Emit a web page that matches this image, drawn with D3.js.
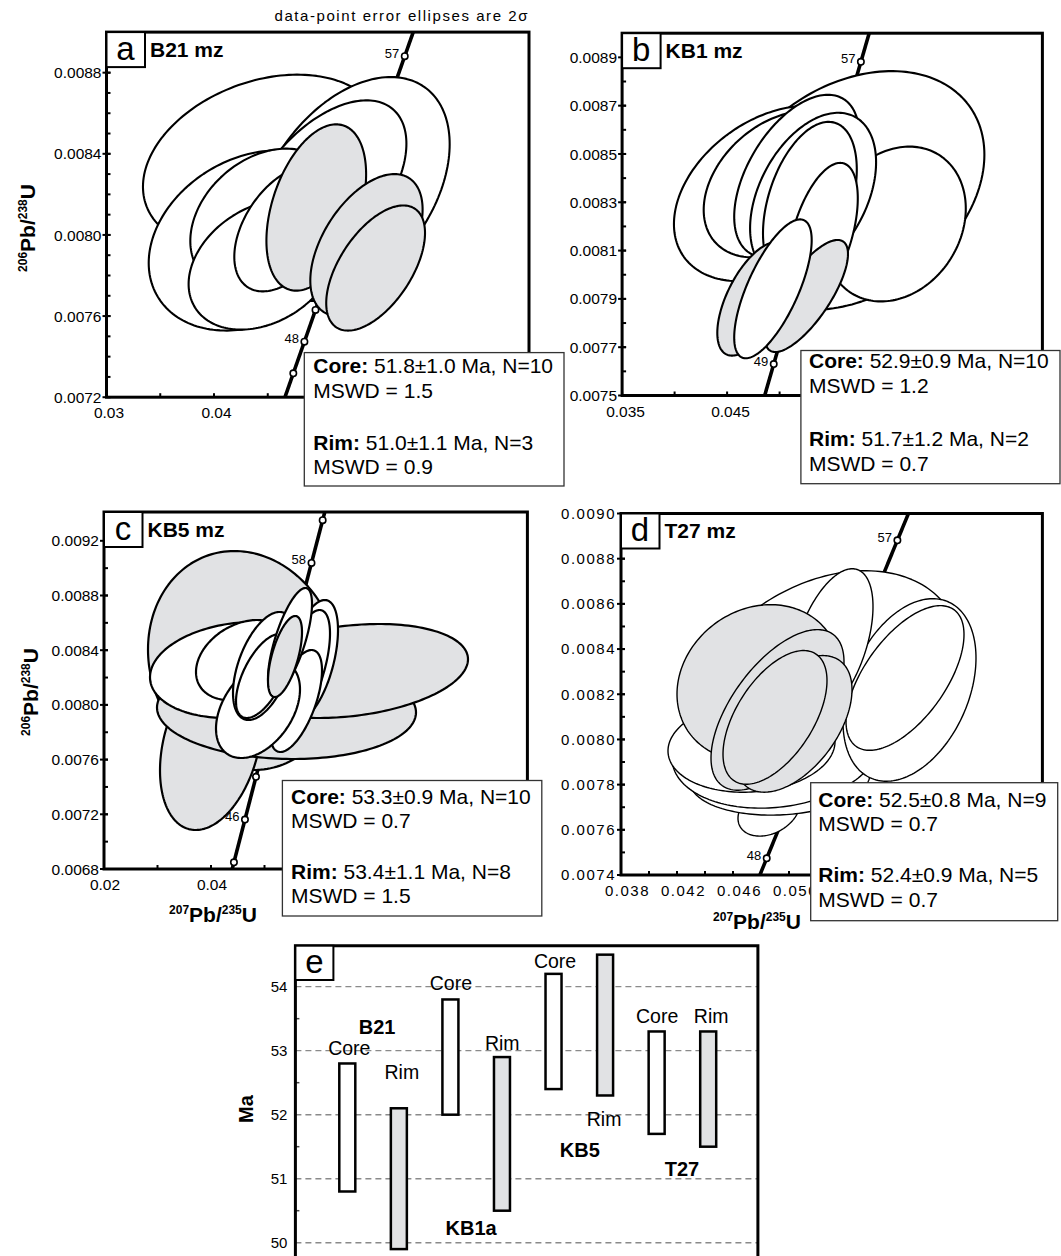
<!DOCTYPE html>
<html>
<head>
<meta charset="utf-8">
<script src="https://cdn.jsdelivr.net/npm/d3@7"></script>
<style>
  body { margin: 0; background: #fff; }
  svg { display: block; }
  text { white-space: pre; }
</style>
</head>
<body>
<svg id="fig" width="1061" height="1256"></svg>
<script>
// ---------------------------------------------------------------
// U-Pb monazite concordia diagrams (a-d) and age summary (e)
// ---------------------------------------------------------------

// Sample names
const sampleIds = ["B21", "KB1", "KB5", "T27"];
const summaryNames = ["B21", "KB1a", "KB5", "T27"];

// Weighted mean ages (Ma), 2-sigma errors, N and MSWD
const coreAge  = [51.8, 52.9, 53.3, 52.5];
const coreErr  = [1.0, 0.9, 0.9, 0.8];
const coreN    = [10, 10, 10, 9];
const coreMSWD = [1.5, 1.2, 0.7, 0.7];
const rimAge   = [51.0, 51.7, 53.4, 52.4];
const rimErr   = [1.1, 1.2, 1.1, 0.9];
const rimN     = [3, 2, 8, 5];
const rimMSWD  = [0.9, 0.7, 1.5, 0.7];

// Error ellipses: [207Pb/235U, 2s half-extent, 206Pb/238U, 2s half-extent, rho, rim(1)/core(0)]
// listed back to front
const ellipsesA = [
  [0.04462,  0.011228, 0.0083585, 0.0004317, 0.28, 0],
  [0.05280,  0.009121, 0.0082266, 0.0005518, 0.40, 0],
  [0.050316, 0.007581, 0.0082276, 0.0004359, 0.51, 0],
  [0.043521, 0.009595, 0.0079727, 0.0004443, 0.25, 0],
  [0.04467,  0.006874, 0.0080753, 0.0003501, 0.30, 0],
  [0.044591, 0.006953, 0.0078541, 0.0003208, 0.30, 0],
  [0.046716, 0.004828, 0.0080316, 0.0003099, 0.45, 0],
  [0.049512, 0.004637, 0.0081352, 0.0004100, 0.40, 1],
  [0.054181, 0.005223, 0.0079500, 0.0003501, 0.50, 1],
  [0.055033, 0.004595, 0.0078368, 0.0003084, 0.56, 1]
];
const ellipsesB = [
  [0.056895, 0.012610, 0.0083487, 0.0004943, 0.30, 0],
  [0.061010, 0.006724, 0.0082100, 0.0003205, 0.20, 0],
  [0.049371, 0.009433, 0.0083367, 0.0003631, 0.35, 0],
  [0.049981, 0.007210, 0.0083746, 0.0003029, 0.35, 0],
  [0.051629, 0.005952, 0.0084084, 0.0003366, 0.50, 0],
  [0.053190, 0.006000, 0.0083291, 0.0003414, 0.40, 0],
  [0.052886, 0.004467, 0.0083032, 0.0003296, 0.40, 0],
  [0.054095, 0.003352, 0.0081693, 0.0002937, 0.50, 0],
  [0.052562, 0.003952, 0.0079120, 0.0002319, 0.75, 1],
  [0.047567, 0.003500, 0.0079002, 0.0002350, 0.60, 1],
  [0.049367, 0.003690, 0.0079416, 0.0002875, 0.70, 0]
];
const ellipsesC = [
  [0.046168, 0.017944, 0.0083247, 0.0008007, -0.10, 1],
  [0.040000, 0.009533, 0.0077068, 0.0006216, 0.30, 1],
  [0.054112, 0.024206, 0.0079627, 0.0003583, -0.05, 1],
  [0.065794, 0.022243, 0.0082479, 0.0003437, 0.25, 1],
  [0.045421, 0.016822, 0.0082552, 0.0003510, 0.15, 0],
  [0.045981, 0.008785, 0.0083283, 0.0002925, 0.30, 0],
  [0.058785, 0.004953, 0.0083283, 0.0004388, 0.50, 0],
  [0.057383, 0.004860, 0.0082625, 0.0004314, 0.60, 0],
  [0.055888, 0.004860, 0.0080285, 0.0003729, 0.60, 0],
  [0.048785, 0.007850, 0.0079700, 0.0003583, 0.40, 0],
  [0.049907, 0.005794, 0.0082845, 0.0003949, 0.50, 0],
  [0.049720, 0.005047, 0.0082113, 0.0003071, 0.60, 0],
  [0.054766, 0.004112, 0.0084673, 0.0003876, 0.70, 0],
  [0.053832, 0.003178, 0.0083539, 0.0002962, 0.60, 1]
];
const ellipsesD = [
  [0.052571, 0.009643, 0.0082389, 0.0005077, 0.30, 0],
  [0.048571, 0.002214, 0.0076848, 0.0001126, 0.30, 0],
  [0.049357, 0.006429, 0.0078305, 0.0001656, 0.10, 0],
  [0.049071, 0.007429, 0.0079563, 0.0002605, 0.15, 0],
  [0.047321, 0.005964, 0.0079695, 0.0002031, 0.10, 0],
  [0.058607, 0.004750, 0.0082190, 0.0004040, 0.35, 0],
  [0.053036, 0.002964, 0.0084199, 0.0003355, 0.50, 0],
  [0.058286, 0.004214, 0.0082720, 0.0003201, 0.60, 0],
  [0.047821, 0.005821, 0.0082521, 0.0003444, 0.15, 1],
  [0.049179, 0.004750, 0.0081307, 0.0003554, 0.60, 1],
  [0.050321, 0.004179, 0.0080689, 0.0003024, 0.50, 1],
  [0.049000, 0.003714, 0.0080976, 0.0002958, 0.55, 1]
];

// Concordia age marks (Ma) and the ones carrying a label
const marksA = [46, 47, 48, 49, 50, 51, 52, 53, 54, 55, 56, 57, 58];
const marksB = [48, 49, 50, 51, 52, 53, 54, 55, 56, 57, 58];
const marksC = [44, 46, 48, 50, 52, 54, 56, 58, 60];
const marksD = [47, 48, 49, 50, 51, 52, 53, 54, 55, 56, 57, 58];
const markLabelsA = [48, 57];
const markLabelsB = [49, 57];
const markLabelsC = [46, 58];
const markLabelsD = [48, 57];

// Axis tick labels
const xLabelsA = [0.03, 0.04];
const yLabelsA = [0.0072, 0.0076, 0.0080, 0.0084, 0.0088];
const xLabelsB = [0.035, 0.045];
const yLabelsB = [0.0075, 0.0077, 0.0079, 0.0081, 0.0083, 0.0085, 0.0087, 0.0089];
const xLabelsC = [0.02, 0.04];
const yLabelsC = [0.0068, 0.0072, 0.0076, 0.0080, 0.0084, 0.0088, 0.0092];
const xLabelsD = [0.038, 0.042, 0.046, 0.050];
const yLabelsD = [0.0074, 0.0076, 0.0078, 0.0080, 0.0082, 0.0084, 0.0086, 0.0088, 0.0090];
const yLabelsE = [50, 51, 52, 53, 54];

// Decay constants (per year)
const L238 = 1.55125e-10;
const L235 = 9.8485e-10;

const FONT = "'Liberation Sans', Arial, Helvetica, sans-serif";
const RIM_FILL = "#e1e2e4";

const svg = d3.select("#fig").attr("font-family", FONT);
const defs = svg.append("defs");

const panels = [
  { id: "a", title: sampleIds[0] + " mz", ellipses: ellipsesA, marks: marksA, markLabels: markLabelsA,
    left: 106.5, right: 529, top: 32.1, bottom: 397.2,
    xDomain: [0.03, 0.0693], yDomain: [0.0072, 0.0090],
    xLabels: xLabelsA, yLabels: yLabelsA, xMinor: 0.005, yMinor: 0.0001,
    xFmt: ".2f", yFmt: ".4f", xDx: 2.5, tickFont: 15.5, tickSpacing: 0, stroke: 2.1,
    ageRange: [45, 60], yTitle: { x: 35, y: 228 } },
  { id: "b", title: sampleIds[1] + " mz", ellipses: ellipsesB, marks: marksB, markLabels: markLabelsB,
    left: 622.1, right: 1042.4, top: 33.2, bottom: 395.5,
    xDomain: [0.035, 0.07503], yDomain: [0.0075, 0.0090],
    xLabels: xLabelsB, yLabels: yLabelsB, xMinor: 0.005, yMinor: 0.0001,
    xFmt: ".3f", yFmt: ".4f", xDx: 3.5, tickFont: 15.5, tickSpacing: 0, stroke: 2.1,
    ageRange: [46, 60] },
  { id: "c", title: sampleIds[2] + " mz", ellipses: ellipsesC, marks: marksC, markLabels: markLabelsC,
    left: 104, right: 527.4, top: 512, bottom: 869,
    xDomain: [0.02, 0.09914], yDomain: [0.0068, 0.0094106],
    xLabels: xLabelsC, yLabels: yLabelsC, xMinor: 0.01, yMinor: 0.0002,
    xFmt: ".2f", yFmt: ".4f", xDx: 1, tickFont: 15.5, tickSpacing: 0, stroke: 2.2,
    ageRange: [42, 62], yTitle: { x: 38, y: 692 }, xTitle: { x: 213, y: 922 } },
  { id: "d", title: sampleIds[3] + " mz", ellipses: ellipsesD, marks: marksD, markLabels: markLabelsD,
    left: 621, right: 1042.4, top: 513.5, bottom: 875,
    xDomain: [0.038, 0.0681], yDomain: [0.0074, 0.0090],
    xLabels: xLabelsD, yLabels: yLabelsD, xMinor: 0.002, yMinor: 0.0001,
    xFmt: ".3f", yFmt: ".4f", xDx: 6.5, tickFont: 15, tickSpacing: 1.5, stroke: 1.4,
    ageRange: [46, 60], xTitle: { x: 757, y: 929 } }
];

function isoLabel(sel, big, supA, supB) {
  sel.append("tspan").attr("font-size", 12).attr("dy", -8).text(supA);
  sel.append("tspan").attr("font-size", big).attr("dy", 8).text("Pb/");
  sel.append("tspan").attr("font-size", 12).attr("dy", -8).text(supB);
  sel.append("tspan").attr("font-size", big).attr("dy", 8).text("U");
}

function drawPanel(p) {
  const g = svg.append("g").attr("class", "panel-" + p.id);
  const x = d3.scaleLinear().domain(p.xDomain).range([p.left, p.right]);
  const y = d3.scaleLinear().domain(p.yDomain).range([p.bottom, p.top]);

  defs.append("clipPath").attr("id", "clip-" + p.id)
    .append("rect")
    .attr("x", p.left).attr("y", p.top)
    .attr("width", p.right - p.left).attr("height", p.bottom - p.top);

  const plot = g.append("g").attr("clip-path", `url(#clip-${p.id})`);

  // Concordia curve
  const ages = d3.range(p.ageRange[0], p.ageRange[1], 0.05);
  const concordia = ages.map(t => [Math.expm1(L235 * t * 1e6), Math.expm1(L238 * t * 1e6)]);
  plot.append("path")
    .attr("d", d3.line().x(d => x(d[0])).y(d => y(d[1]))(concordia))
    .attr("fill", "none").attr("stroke", "#000").attr("stroke-width", 3.6);

  const markPts = p.marks.map(t => ({ t, r207: Math.expm1(L235 * t * 1e6), r206: Math.expm1(L238 * t * 1e6) }));
  plot.selectAll("circle.mark").data(markPts).join("circle")
    .attr("class", "mark")
    .attr("cx", d => x(d.r207)).attr("cy", d => y(d.r206)).attr("r", 3.2)
    .attr("fill", "#fff").attr("stroke", "#000").attr("stroke-width", 1.6);

  // Error ellipses
  const line = d3.line().x(d => x(d[0])).y(d => y(d[1])).curve(d3.curveLinearClosed);
  const steps = d3.range(0, 2 * Math.PI, Math.PI / 90);
  p.ellipses.forEach(([cx, ex, cy, ey, rho, rim]) => {
    const k = Math.sqrt(1 - rho * rho);
    const pts = steps.map(t => [cx + ex * Math.cos(t), cy + ey * (rho * Math.cos(t) + k * Math.sin(t))]);
    plot.append("path").attr("d", line(pts))
      .attr("fill", rim ? RIM_FILL : "#fff")
      .attr("stroke", "#000").attr("stroke-width", p.stroke)
      .attr("stroke-linejoin", "round");
  });

  // Age mark labels
  g.selectAll("text.marklab").data(markPts.filter(d => p.markLabels.includes(d.t))).join("text")
    .attr("class", "marklab")
    .attr("x", d => x(d.r207) - 5.5).attr("y", d => y(d.r206) + 1.5)
    .attr("text-anchor", "end").attr("font-size", 13).text(d => d.t);

  // Ticks
  const ticks = g.append("g").attr("stroke", "#000").attr("stroke-width", 2);
  const xMinorVals = d3.range(Math.ceil(p.xDomain[0] / p.xMinor - 1e-6), Math.floor(p.xDomain[1] / p.xMinor + 1e-6) + 1).map(i => i * p.xMinor);
  const yMinorVals = d3.range(Math.ceil(p.yDomain[0] / p.yMinor - 1e-6), Math.floor(p.yDomain[1] / p.yMinor + 1e-6) + 1).map(i => i * p.yMinor);
  ticks.selectAll("line.xm").data(xMinorVals).join("line")
    .attr("x1", d => x(d)).attr("x2", d => x(d))
    .attr("y1", p.bottom).attr("y2", p.bottom - 4);
  ticks.selectAll("line.ym").data(yMinorVals).join("line")
    .attr("y1", d => y(d)).attr("y2", d => y(d))
    .attr("x1", p.left).attr("x2", p.left + 4);
  ticks.selectAll("line.yM").data(p.yLabels).join("line")
    .attr("y1", d => y(d)).attr("y2", d => y(d))
    .attr("x1", p.left - 4).attr("x2", p.left + 4);

  // Frame
  g.append("rect")
    .attr("x", p.left).attr("y", p.top)
    .attr("width", p.right - p.left).attr("height", p.bottom - p.top)
    .attr("fill", "none").attr("stroke", "#000").attr("stroke-width", 3);

  // Tick labels
  const fx = d3.format(p.xFmt), fy = d3.format(p.yFmt);
  g.selectAll("text.xl").data(p.xLabels).join("text")
    .attr("x", d => x(d) + p.xDx).attr("y", p.bottom + 21)
    .attr("text-anchor", "middle").attr("font-size", p.tickFont)
    .style("letter-spacing", p.tickSpacing + "px")
    .text(d => fx(d));
  g.selectAll("text.yl").data(p.yLabels).join("text")
    .attr("x", p.left - 5).attr("y", d => y(d)).attr("dy", "0.36em")
    .attr("text-anchor", "end").attr("font-size", p.tickFont)
    .style("letter-spacing", p.tickSpacing + "px")
    .text(d => fy(d));

  // Panel letter box and sample title
  g.append("rect")
    .attr("x", p.left).attr("y", p.top).attr("width", 38.5).attr("height", 35)
    .attr("fill", "#fff").attr("stroke", "#000").attr("stroke-width", 2);
  g.append("text")
    .attr("x", p.left + 19).attr("y", p.top + 27.5)
    .attr("text-anchor", "middle").attr("font-size", 33).text(p.id);
  g.append("text")
    .attr("x", p.left + 43.5).attr("y", p.top + 24.5)
    .attr("font-size", 21).attr("font-weight", "bold").text(p.title);

  // Axis titles
  if (p.yTitle) {
    const t = g.append("text")
      .attr("transform", `translate(${p.yTitle.x},${p.yTitle.y}) rotate(-90)`)
      .attr("text-anchor", "middle").attr("font-weight", "bold");
    isoLabel(t, 21, "206", "238");
  }
  if (p.xTitle) {
    const t = g.append("text")
      .attr("x", p.xTitle.x).attr("y", p.xTitle.y)
      .attr("text-anchor", "middle").attr("font-weight", "bold");
    isoLabel(t, 21, "207", "235");
  }
}

panels.forEach(drawPanel);

// Header note
svg.append("text")
  .attr("x", 274.5).attr("y", 21)
  .attr("font-size", 15)
  .attr("textLength", 253).attr("lengthAdjust", "spacing")
  .text("data-point error ellipses are 2\u03c3");

// Result boxes
const boxes = [
  { x: 304.3, y: 352.6, w: 259.7, h: 133.4, tx: 313.3, lines: [372.7, 397.7, 449.5, 474] },
  { x: 800.9, y: 350.5, w: 259.1, h: 133.2, tx: 809,   lines: [368.3, 392.7, 446.4, 470.8] },
  { x: 282.4, y: 780.5, w: 259.4, h: 135.5, tx: 291,   lines: [803.6, 828.3, 878.5, 903] },
  { x: 810.7, y: 782.7, w: 247,   h: 138,   tx: 818.3, lines: [806.7, 831.3, 882, 906.5] }
];
boxes.forEach((b, i) => {
  const g = svg.append("g");
  g.append("rect").attr("x", b.x).attr("y", b.y).attr("width", b.w).attr("height", b.h)
    .attr("fill", "#fff").attr("stroke", "#333").attr("stroke-width", 1.3);
  const rows = [
    { head: "Core:", body: ` ${coreAge[i].toFixed(1)}\u00b1${coreErr[i].toFixed(1)} Ma, N=${coreN[i]}` },
    { head: "", body: `MSWD = ${coreMSWD[i].toFixed(1)}` },
    { head: "Rim:", body: ` ${rimAge[i].toFixed(1)}\u00b1${rimErr[i].toFixed(1)} Ma, N=${rimN[i]}` },
    { head: "", body: `MSWD = ${rimMSWD[i].toFixed(1)}` }
  ];
  rows.forEach((r, j) => {
    const t = g.append("text").attr("x", b.tx).attr("y", b.lines[j]).attr("font-size", 21);
    if (r.head) t.append("tspan").attr("font-weight", "bold").text(r.head);
    t.append("tspan").text(r.body);
  });
});

// ---------------- Panel e: age summary ----------------
const eFrame = { left: 295.4, right: 757.9, top: 945.7 };
const bars = [];
summaryNames.forEach((s, i) => {
  bars.push({ key: s + " core", age: coreAge[i], err: coreErr[i], rim: false });
  bars.push({ key: s + " rim", age: rimAge[i], err: rimErr[i], rim: true });
});
const xe = d3.scalePoint().domain(bars.map(d => d.key)).range([347.3, 708.2]);
const ye = d3.scaleLinear().domain([49.5, 54.64]).range([1274.7, eFrame.top]);
const ge = svg.append("g");

// dashed grid
ge.selectAll("line.grid").data(yLabelsE).join("line")
  .attr("x1", eFrame.left).attr("x2", eFrame.right)
  .attr("y1", d => ye(d)).attr("y2", d => ye(d))
  .attr("stroke", "#8a8a8a").attr("stroke-width", 1.4).attr("stroke-dasharray", "6,4");
// minor ticks
ge.selectAll("line.em").data(yLabelsE.map(v => v - 0.5).concat([54.5])).join("line")
  .attr("x1", eFrame.left).attr("x2", eFrame.left + 4)
  .attr("y1", d => ye(d)).attr("y2", d => ye(d))
  .attr("stroke", "#444").attr("stroke-width", 1.5);

// bars
ge.selectAll("rect.bar").data(bars).join("rect")
  .attr("x", d => xe(d.key) - 8).attr("width", 16)
  .attr("y", d => ye(d.age + d.err))
  .attr("height", d => ye(d.age - d.err) - ye(d.age + d.err))
  .attr("fill", d => d.rim ? RIM_FILL : "#fff")
  .attr("stroke", "#000").attr("stroke-width", 2.5);

// labels beside the bars (placement in Ma)
const barLabelPlacement = [
  { key: "B21 core",  text: "Core", ma: 52.93, dx: 2 },
  { key: "B21 rim",   text: "Rim",  ma: 52.55, dx: 3 },
  { key: "KB1a core", text: "Core", ma: 53.95, dx: 0.5 },
  { key: "KB1a rim",  text: "Rim",  ma: 53.01, dx: 0.3 },
  { key: "KB5 core",  text: "Core", ma: 54.29, dx: 1.5 },
  { key: "KB5 rim",   text: "Rim",  ma: 51.82, dx: -1 },
  { key: "T27 core",  text: "Core", ma: 53.44, dx: 0.5 },
  { key: "T27 rim",   text: "Rim",  ma: 53.44, dx: 3 }
];
ge.selectAll("text.bl").data(barLabelPlacement).join("text")
  .attr("x", d => xe(d.key) + d.dx).attr("y", d => ye(d.ma))
  .attr("text-anchor", "middle").attr("font-size", 19.5).text(d => d.text);

const groupLabelPlacement = [
  { name: summaryNames[0], ma: 53.26, dx: 4 },
  { name: summaryNames[1], ma: 50.12, dx: -5 },
  { name: summaryNames[2], ma: 51.34, dx: 0.5 },
  { name: summaryNames[3], ma: 51.04, dx: -0.5 }
];
ge.selectAll("text.gl").data(groupLabelPlacement).join("text")
  .attr("x", d => (xe(d.name + " core") + xe(d.name + " rim")) / 2 + d.dx)
  .attr("y", d => ye(d.ma))
  .attr("text-anchor", "middle").attr("font-size", 20).attr("font-weight", "bold")
  .text(d => d.name);

// frame (bottom lies below the visible area)
ge.append("path")
  .attr("d", `M${eFrame.left},1262V${eFrame.top}H${eFrame.right}V1262`)
  .attr("fill", "none").attr("stroke", "#000").attr("stroke-width", 3);

// y labels
ge.selectAll("text.ey").data(yLabelsE).join("text")
  .attr("x", eFrame.left - 8).attr("y", d => ye(d)).attr("dy", "0.36em")
  .attr("text-anchor", "end").attr("font-size", 15).text(d => d);
ge.append("text")
  .attr("transform", `translate(253,1109) rotate(-90)`)
  .attr("text-anchor", "middle").attr("font-size", 20).attr("font-weight", "bold").text("Ma");

// panel letter
ge.append("rect").attr("x", eFrame.left).attr("y", eFrame.top).attr("width", 38).attr("height", 34.3)
  .attr("fill", "#fff").attr("stroke", "#000").attr("stroke-width", 2);
ge.append("text").attr("x", eFrame.left + 19).attr("y", eFrame.top + 27)
  .attr("text-anchor", "middle").attr("font-size", 33).text("e");
</script>
</body>
</html>
